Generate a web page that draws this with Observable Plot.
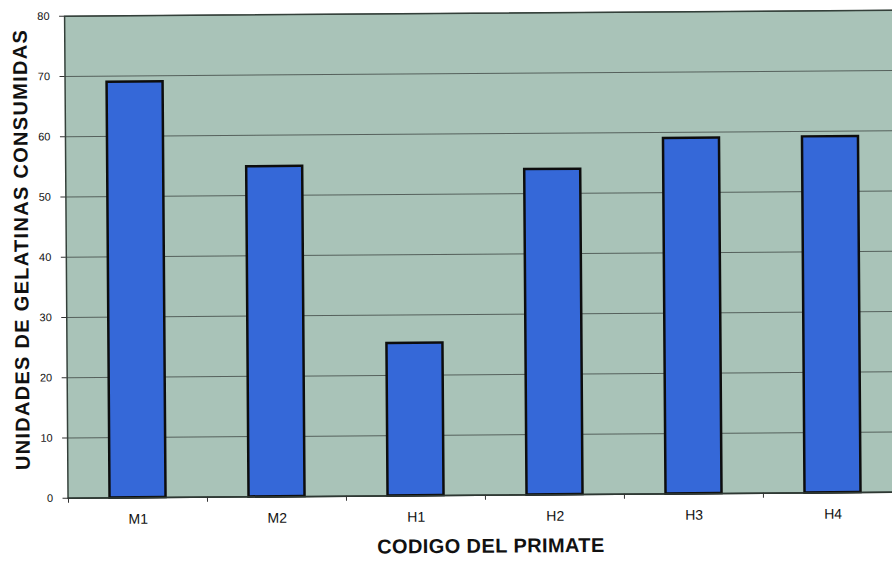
<!DOCTYPE html>
<html>
<head>
<meta charset="utf-8">
<script src="https://cdn.jsdelivr.net/npm/d3@7"></script>
<script src="https://cdn.jsdelivr.net/npm/@observablehq/plot@0.6"></script>
<style>
  html, body { margin: 0; padding: 0; background: #ffffff; }
  #chart { width: 892px; height: 562px; overflow: hidden; position: relative; }
  #chart svg { display: block; max-width: none !important; transform: rotate(-0.41deg); transform-origin: 446px 281px; }
</style>
</head>
<body>
<div id="chart"></div>
<script>
// Gelatin units consumed by each primate
const categories = ["M1", "M2", "H1", "H2", "H3", "H4"];
const values = [69, 54.8, 25.3, 54, 59, 59.1];
const yTicks = [0, 10, 20, 30, 40, 50, 60, 70, 80];
const yTitle = "UNIDADES DE GELATINAS CONSUMIDAS";
const xTitle = "CODIGO DEL PRIMATE";

const rows = categories.map((code, i) => ({code, value: values[i]}));

const width = 902, marginLeft = 66, marginRight = 1;
const step = (width - marginLeft - marginRight) / categories.length;

const chart = Plot.plot({
  width,
  height: 562,
  marginLeft,
  marginRight,
  marginTop: 13,
  marginBottom: 67,
  style: {background: "transparent", fontFamily: "'Liberation Sans', Arial, sans-serif", color: "#1a1a1a", maxWidth: "none"},
  x: {domain: categories, paddingInner: 0.6, paddingOuter: 0.3, label: null},
  y: {domain: [0, 80], ticks: yTicks, label: null},
  marks: [
    Plot.frame({fill: "#a9c3b8", stroke: null}),
    Plot.gridY(yTicks, {stroke: "#4c5752", strokeOpacity: 0.9, strokeWidth: 1}),
    Plot.frame({stroke: "#34403a", strokeWidth: 1.5}),
    Plot.barY(rows, {x: "code", y: "value", fill: "#3568d8", stroke: "#0d0d0d", strokeWidth: 2.5}),
    Plot.ruleY([0], {stroke: "#2e3833", strokeWidth: 1.5}),
    Plot.axisY(yTicks, {tickSize: 5, tickPadding: 10, fontSize: 11, fill: "#111", stroke: "#333"}),
    Plot.axisX({tickSize: 0, tickPadding: 16, fontSize: 14, fill: "#111"}),
    Plot.axisX({tickSize: 5, text: null, dx: -step / 2, stroke: "#333"}),
    Plot.text([yTitle], {frameAnchor: "left", text: d => d, rotate: -90, textAnchor: "middle", lineAnchor: "middle", dx: -44.5, dy: -8, fontSize: 20, fontWeight: "bold", fill: "#111"}),
    Plot.text([xTitle], {frameAnchor: "bottom", text: d => d, textAnchor: "middle", lineAnchor: "middle", dx: 5, dy: 51, fontSize: 20, fontWeight: "bold", fill: "#111"})
  ]
});

// Wider tracking on the two axis titles
const spacing = new Map([[yTitle, "1.3px"], [xTitle, "0.4px"]]);
d3.select(chart).selectAll("text")
  .filter(function () { return spacing.has(this.textContent); })
  .style("letter-spacing", function () { return spacing.get(this.textContent); });

document.getElementById("chart").appendChild(chart);
</script>
</body>
</html>
